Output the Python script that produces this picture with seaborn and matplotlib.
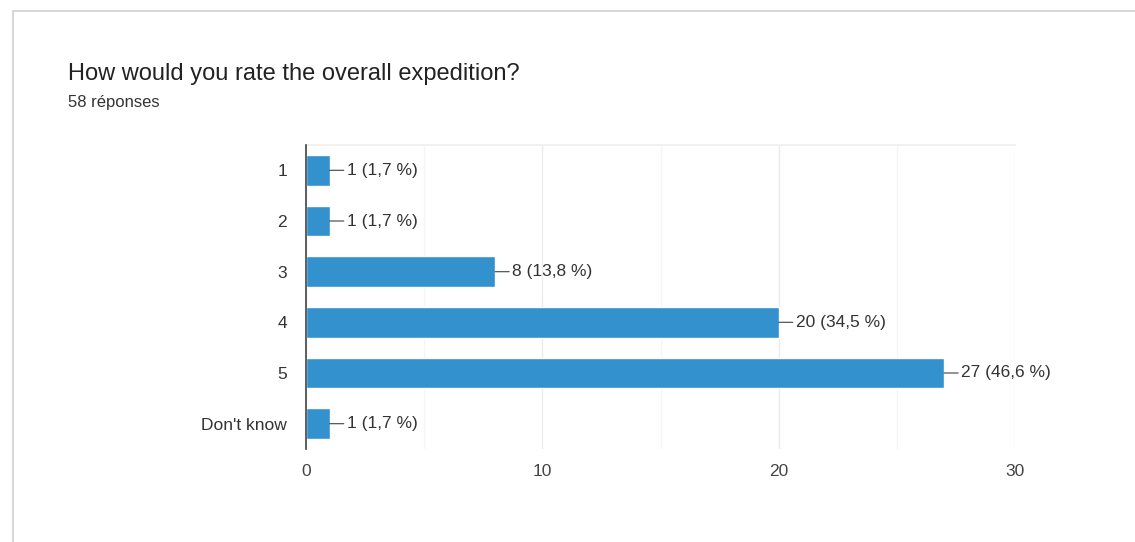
import matplotlib
matplotlib.use("Agg")
import matplotlib.pyplot as plt
from matplotlib.lines import Line2D
import seaborn as sns
import pandas as pd

categories = ["1", "2", "3", "4", "5", "Don't know"]
counts = [1, 1, 8, 20, 27, 1]
percents = ["1,7", "1,7", "13,8", "34,5", "46,6", "1,7"]
title = "How would you rate the overall expedition?"
subtitle = "58 réponses"
x_ticks = [0, 10, 20, 30]

sns.set_theme(style="white")
plt.rcParams["font.family"] = ["Liberation Sans", "DejaVu Sans"]

W, H = 1135, 542
fig = plt.figure(figsize=(W / 100, H / 100), dpi=100)
ax = fig.add_axes([306 / W, 1 - 449 / H, (1015 - 306) / W, (449 - 145) / H])

df = pd.DataFrame({"category": categories, "count": counts})
sns.barplot(data=df, x="count", y="category", orient="h", color="#3392CE",
            saturation=1, width=0.6, ax=ax, zorder=3)

ax.set_xlim(0, 30)
ax.set_xticks(x_ticks)
ax.set_xticks([5, 15, 25], minor=True)
ax.grid(axis="x", which="major", color="#ebebeb", linewidth=1, zorder=0)
ax.grid(axis="x", which="minor", color="#f5f5f5", linewidth=1, zorder=0)
ax.set_xlabel("")
ax.set_ylabel("")
for s in ["right", "bottom"]:
    ax.spines[s].set_visible(False)
ax.spines["top"].set_color("#f0f0f0")
ax.spines["left"].set_color("#444444")
ax.spines["left"].set_linewidth(1.2)
ax.spines["left"].set_zorder(4)
ax.tick_params(axis="x", length=0, labelsize=12.5, labelcolor="#444444", pad=10.5)
ax.tick_params(axis="y", length=0, labelsize=12.5, labelcolor="#333333", pad=13.7)

for i, (c, p) in enumerate(zip(counts, percents)):
    ax.annotate(f"{c} ({p} %)", xy=(c, i), xytext=(12.5, 0), textcoords="offset points",
                va="center", ha="left", fontsize=12.5, color="#333333",
                arrowprops=dict(arrowstyle="-", color="#555555", lw=0.9,
                                shrinkA=0, shrinkB=0), zorder=5)

fig.text(68 / W, 1 - 74 / H, title, fontsize=17, color="#222222", va="center", ha="left")
fig.text(68 / W, 1 - 102 / H, subtitle, fontsize=12, color="#333333", va="center", ha="left")

fig.add_artist(Line2D([12.5 / W, 12.5 / W, 1], [0, 1 - 10.5 / H, 1 - 10.5 / H],
                      transform=fig.transFigure, color="#d0d0d0", lw=1.2))

fig.savefig("out.png", dpi=100, facecolor="white")
